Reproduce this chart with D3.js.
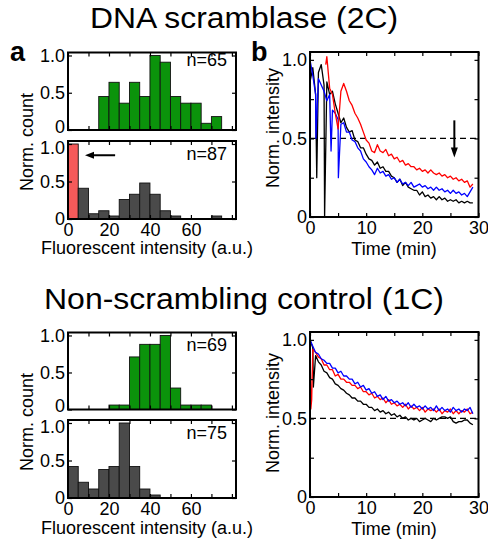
<!DOCTYPE html>
<html><head><meta charset="utf-8">
<script src="https://cdn.jsdelivr.net/npm/d3@7"></script>
<style>body{margin:0;background:#fff} text{font-family:"Liberation Sans",Arial,sans-serif;fill:#000}</style>
</head><body><svg id="c" width="488" height="543"></svg>
<script>
// ---------------- DATA ----------------
const binStarts = [0,5,10,15,20,25,30,35,40,45,50,55,60,65,70];
const binWidth = 5;
const histScramTop = [0,0,0,0.45,0.64,0.36,0.64,0.45,1.0,0.91,0.45,0.36,0.36,0.09,0.18];
const histScramBot = [1.0,0.41,0.07,0.11,0.04,0.26,0.33,0.48,0.33,0.11,0.04,0,0,0,0.04];
const histCtrlTop  = [0,0,0,0,0.06,0.06,0.71,0.88,0.88,1.0,0.29,0.06,0.06,0.06,0];
const histCtrlBot  = [0.42,0.21,0.12,0.38,0.42,1.0,0.42,0.12,0.04,0,0,0,0,0,0];
const nLabels = ["n=65","n=87","n=69","n=75"];
const histXTicks = [0,10,20,30,40,50,60,70,80];
const histXLabels = [0,20,40,60];
const histYTicks = [0,0.5,1.0];

const time = [0,0.5,1,1.5,2,2.5,3,3.5,4,4.5,5,5.5,6,6.5,7,7.5,8,8.5,9,9.5,10,10.5,11,11.5,12,12.5,13,13.5,14,14.5,15,15.5,16,16.5,17,17.5,18,18.5,19,19.5,20,20.5,21,21.5,22,22.5,23,23.5,24,24.5,25,25.5,26,26.5,27,27.5,28,28.5,29];

// DNA scramblase (2C) traces
const scramBlack = [0.86,0.95,0.78,0.92,0.97,0.84,0.86,0.78,0.80,0.72, 0.66,0.60,0.63,0.57,0.54,0.55,0.49,0.48,0.44,0.44, 0.40,0.37,0.36,0.33,0.35,0.31,0.32,0.29,0.29,0.26, 0.25,0.22,0.24,0.20,0.22,0.19,0.18,0.17,0.17,0.14, 0.16,0.13,0.14,0.12,0.13,0.11,0.13,0.11,0.12,0.10, 0.11,0.10,0.11,0.09,0.10,0.09,0.10,0.09,0.09];
const scramBlue  = [1.00,0.90,0.78,0.88,0.84,0.80,0.74,0.78,0.68,0.66, 0.62,0.59,0.60,0.54,0.54,0.49,0.48,0.44,0.42,0.37, 0.35,0.32,0.30,0.27,0.31,0.28,0.29,0.26,0.27,0.24, 0.25,0.22,0.24,0.21,0.22,0.20,0.22,0.19,0.20,0.21, 0.19,0.20,0.18,0.19,0.17,0.19,0.17,0.18,0.16,0.17, 0.15,0.17,0.15,0.16,0.14,0.15,0.13,0.16,0.19];
const scramRed   = [null,null,null,null,null,null, 1.02,0.82,0.78,0.66,0.56,0.80,0.85,0.80,0.74,0.71, 0.66,0.63,0.59,0.54,0.49,0.47,0.42,0.41,0.46,0.42, 0.41,0.43,0.39,0.40,0.37,0.38,0.35,0.36,0.33,0.34, 0.32,0.32,0.30,0.31,0.29,0.30,0.28,0.30,0.28,0.27, 0.28,0.26,0.27,0.25,0.26,0.24,0.25,0.23,0.24,0.22, 0.23,0.19,0.21];
const scramBlackSpikes = [[1.2,0.25],[2.6,0.0]];
const scramBlueSpikes  = [[1.05,0.50],[3.75,0.42],[5.05,0.25]];
const scramRedSpikes   = [[2.8,0.97]];

// Non-scrambling control (1C) traces
const ctrlBlack = [1.00,0.95,0.90,0.86,0.84,0.80,0.79,0.76,0.75,0.72, 0.71,0.69,0.68,0.66,0.65,0.63,0.63,0.61,0.61,0.59, 0.59,0.57,0.57,0.55,0.56,0.54,0.55,0.53,0.54,0.52, 0.53,0.51,0.52,0.50,0.51,0.49,0.50,0.49,0.50,0.48, 0.49,0.50,0.49,0.48,0.50,0.49,0.50,0.51,0.51,0.50, 0.51,0.48,0.47,0.48,0.48,0.49,0.49,0.47,0.46];
const ctrlRed   = [1.00,0.94,0.92,0.89,0.88,0.84,0.84,0.81,0.81,0.77, 0.78,0.75,0.75,0.73,0.73,0.71,0.71,0.69,0.70,0.67, 0.67,0.65,0.66,0.63,0.64,0.62,0.63,0.60,0.62,0.59, 0.60,0.58,0.59,0.57,0.59,0.56,0.58,0.56,0.57,0.55, 0.57,0.54,0.56,0.55,0.56,0.54,0.56,0.53,0.55,0.54, 0.56,0.53,0.55,0.53,0.55,0.54,0.56,0.53,0.54];
const ctrlBlue  = [1.00,0.96,0.92,0.91,0.88,0.87,0.85,0.85,0.82,0.82, 0.79,0.80,0.77,0.77,0.75,0.75,0.72,0.73,0.70,0.71, 0.68,0.69,0.66,0.67,0.64,0.65,0.62,0.64,0.61,0.62, 0.60,0.61,0.59,0.60,0.58,0.60,0.57,0.59,0.57,0.58, 0.56,0.58,0.56,0.57,0.55,0.58,0.55,0.57,0.55,0.56, 0.54,0.57,0.55,0.56,0.54,0.56,0.55,0.57,0.53];
const ctrlBlackSpikes = [[0.6,0.70]];
const ctrlBlueSpikes  = [];
const ctrlRedSpikes   = [[0.15,0.56],[0.3,0.62]];

const lineXTicks = [0,5,10,15,20,25,30];
const lineXLabels = [0,10,20,30];
const lineYTicks = [0,0.25,0.5,0.75,1.0];
const lineYLabels = [0,0.5,1.0];
const halfLevel = 0.5;

// ---------------- DRAW ----------------
const svg = d3.select("#c");
const FS = 18;

function fmtY(d){ return d===0 ? "0" : d.toFixed(1); }

function frameAxes(g, x, y, xt, xl, yt, yl){
  const [x0,x1] = x.range(), [y0,y1] = y.range();
  const bot = d3.axisBottom(x).tickValues(xt).tickSize(-4).tickPadding(4)
      .tickFormat(d => xl.includes(d) ? String(d) : "");
  const top = d3.axisTop(x).tickValues(xt).tickSize(-4).tickFormat("");
  const left = d3.axisLeft(y).tickValues(yt).tickSize(-4).tickPadding(3)
      .tickFormat(d => yl.includes(d) ? fmtY(d) : "");
  const right = d3.axisRight(y).tickValues(yt).tickSize(-4).tickFormat("");
  const ga = g.append("g");
  ga.append("g").attr("transform",`translate(0,${y0})`).call(bot);
  ga.append("g").attr("transform",`translate(0,${y1})`).call(top);
  const gl = ga.append("g").attr("class","yaxis").attr("transform",`translate(${x0},0)`).call(left);
  ga.append("g").attr("transform",`translate(${x1},0)`).call(right);
  ga.selectAll(".domain").remove();
  ga.selectAll(".tick text").filter(function(){ return this.textContent === ""; }).remove();
  ga.selectAll(".tick line").attr("stroke","#000").attr("stroke-width",1.2);
  ga.selectAll(".tick text").attr("font-size",FS).attr("font-family","Liberation Sans, Arial, sans-serif").attr("fill","#000");
  g.append("rect").attr("x",x0).attr("y",y1).attr("width",x1-x0).attr("height",y0-y1)
    .attr("fill","none").attr("stroke","#000").attr("stroke-width",2);
  return gl;
}

function hist(values, yTop, yBot, fill, nLabel, nOffset, showX, highlight){
  const g = svg.append("g");
  const x = d3.scaleLinear().domain([0,82]).range([68,236]);
  const y = d3.scaleLinear().domain([0,1.04]).range([yBot,yTop]);
  const data = binStarts.map((b,i)=>({b, v: values[i], i})).filter(d=>d.v>0);
  g.selectAll("rect.bar").data(data).join("rect").attr("class","bar")
    .attr("x",d=>x(d.b)).attr("width",d=>x(d.b+binWidth)-x(d.b))
    .attr("y",d=>y(d.v)).attr("height",d=>y(0)-y(d.v))
    .attr("fill",d=> (highlight!==undefined && d.i===highlight) ? "#f65a5a" : fill)
    .attr("stroke","#111").attr("stroke-width",0.9);
  const gl = frameAxes(g, x, y, histXTicks, showX ? histXLabels : [], histYTicks, histYTicks);
  // stacked panels: nudge the touching labels apart as in the reference
  if (!showX) gl.selectAll(".tick").filter(d=>d===0).select("text").attr("dy","0.12em");
  else gl.selectAll(".tick").filter(d=>d===1).select("text").attr("dy","0.5em");
  g.append("text").attr("x",227).attr("y",yTop+nOffset).attr("text-anchor","end")
    .attr("font-size",FS).text(nLabel);
  return {x,y,g};
}

function traces(series, yTop, yBot){
  const g = svg.append("g");
  const x = d3.scaleLinear().domain([0,30]).range([310,478.5]);
  const y = d3.scaleLinear().domain([0,1.05]).range([yBot,yTop]);
  g.append("line").attr("x1",x(0)).attr("x2",x(30)).attr("y1",y(halfLevel)).attr("y2",y(halfLevel))
    .attr("stroke","#000").attr("stroke-width",1.2).attr("stroke-dasharray","6,4");
  const line = d3.line().x(d=>x(d[0])).y(d=>y(d[1]));
  series.forEach(s=>{
    const pts = time.map((t,i)=>[t, s.v[i]]).filter(p=>p[1]!==null).concat(s.spikes)
      .sort((a,b)=>a[0]-b[0]);
    g.append("path").datum(pts).attr("d",line).attr("fill","none")
      .attr("stroke",s.c).attr("stroke-width",1.3).attr("stroke-linejoin","round");
  });
  frameAxes(g, x, y, lineXTicks, lineXLabels, lineYTicks, lineYLabels);
  return {x,y,g};
}

// Titles
svg.append("text").attr("x",244).attr("y",28).attr("text-anchor","middle").attr("font-size",30)
  .attr("textLength",308).attr("lengthAdjust","spacingAndGlyphs").text("DNA scramblase (2C)");
svg.append("text").attr("x",244).attr("y",309).attr("text-anchor","middle").attr("font-size",30)
  .attr("textLength",400).attr("lengthAdjust","spacingAndGlyphs").text("Non-scrambling control (1C)");
svg.append("text").attr("x",10).attr("y",61).attr("font-size",27).attr("font-weight","bold").text("a");
svg.append("text").attr("x",251).attr("y",61).attr("font-size",27).attr("font-weight","bold").text("b");

const green = "#0b930b", gray = "#4a4a4a";
const h1 = hist(histScramTop, 52.5, 130, green, nLabels[0], 13, false);
const h2 = hist(histScramBot, 141, 219, gray, nLabels[1], 19, true, 0);
const h3 = hist(histCtrlTop, 332.5, 409.5, green, nLabels[2], 18.5, false);
const h4 = hist(histCtrlBot, 420, 498, gray, nLabels[3], 18.5, true);

// arrow in h2 (pointing left toward highlighted bin)
(function(){
  const x = h2.x, y = h2.y, yy = y(0.85);
  h2.g.append("line").attr("x1",x(23)).attr("x2",x(11)).attr("y1",yy).attr("y2",yy).attr("stroke","#000").attr("stroke-width",2);
  h2.g.append("path").attr("d",`M${x(8.3)},${yy} L${x(8.3)+9},${yy-3.5} L${x(8.3)+9},${yy+3.5} Z`).attr("fill","#000");
})();

const t1 = traces([
  {v:scramBlack, spikes:scramBlackSpikes, c:"#000"},
  {v:scramBlue, spikes:scramBlueSpikes, c:"#0000ff"},
  {v:scramRed, spikes:scramRedSpikes, c:"#ff0000"}
], 52, 217);
const t2 = traces([
  {v:ctrlBlack, spikes:ctrlBlackSpikes, c:"#000"},
  {v:ctrlRed, spikes:ctrlRedSpikes, c:"#ff0000"},
  {v:ctrlBlue, spikes:ctrlBlueSpikes, c:"#0000ff"}
], 332, 497);

// down arrow in panel b
(function(){
  const x = t1.x, y = t1.y, xx = x(25.7);
  t1.g.append("line").attr("x1",xx).attr("x2",xx).attr("y1",y(0.615)).attr("y2",y(0.43)).attr("stroke","#000").attr("stroke-width",2);
  t1.g.append("path").attr("d",`M${xx},${y(0.378)} L${xx-3.5},${y(0.378)-10} L${xx+3.5},${y(0.378)-10} Z`).attr("fill","#000");
})();

// axis titles
function vlabel(x, y, txt){
  svg.append("text").attr("transform",`translate(${x},${y}) rotate(-90)`).attr("text-anchor","middle").attr("font-size",FS).text(txt);
}
vlabel(33,142,"Norm. count");
vlabel(33,422,"Norm. count");
vlabel(279,128,"Norm. intensity");
vlabel(279,413,"Norm. intensity");
svg.append("text").attr("x",41).attr("y",254).attr("font-size",FS).text("Fluorescent intensity (a.u.)");
svg.append("text").attr("x",41).attr("y",534).attr("font-size",FS).text("Fluorescent intensity (a.u.)");
svg.append("text").attr("x",394).attr("y",255).attr("text-anchor","middle").attr("font-size",FS).text("Time (min)");
svg.append("text").attr("x",394).attr("y",535).attr("text-anchor","middle").attr("font-size",FS).text("Time (min)");
</script></body></html>
